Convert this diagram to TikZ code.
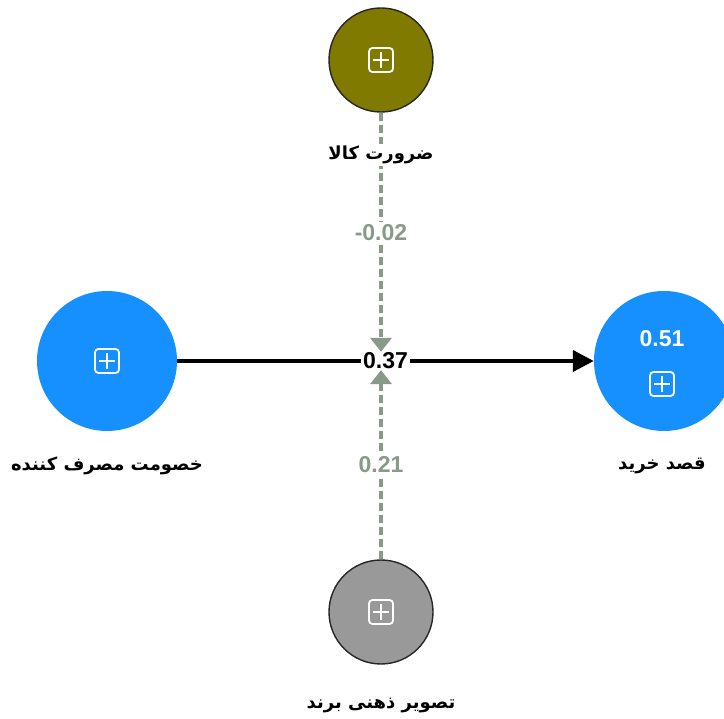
\documentclass[tikz,border=0pt]{standalone}
\usepackage{fontspec}
\setmainfont{Liberation Sans}
\newfontfamily\arabicfont[Script=Arabic]{DejaVu Sans}
\TeXXeTstate=1
\usetikzlibrary{arrows.meta}
\definecolor{olivenode}{RGB}{128,122,0}
\definecolor{bluenode}{RGB}{22,143,255}
\definecolor{graynode}{RGB}{153,153,153}
\definecolor{pathgreen}{RGB}{137,154,137}
\newcommand{\fatext}[1]{{\arabicfont\bfseries\fontsize{18}{21}\selectfont\beginR #1\endR}}

\begin{document}
\begin{tikzpicture}[x=1pt,y=-1pt,
  lv/.style={circle,minimum size=104pt,inner sep=0pt,draw=black!85,line width=1.4pt},
  bigv/.style={circle,minimum size=140pt,inner sep=0pt,fill=bluenode},
  plusbox/.style={draw=white,line width=1.8pt,rounded corners=3.5pt,minimum size=24pt,inner sep=0pt,
    path picture={\draw[white,line width=1.8pt] (path picture bounding box.center) +(-8pt,0) -- +(8pt,0)
      (path picture bounding box.center) +(0,-8pt) -- +(0,8pt);}},
  namelbl/.style={fill=white,inner sep=2pt},
  coef/.style={fill=white,inner sep=2pt,font=\fontsize{23}{26}\selectfont\bfseries},
  dashedge/.style={draw=pathgreen,line width=3.4pt,dash pattern=on 8pt off 4pt,-{Triangle[width=21pt,length=14pt]}}]
\useasboundingbox (0,0) rectangle (724,719);
% constructs
\node[lv,fill=olivenode] (zarurat) at (381,60) {};
\node[lv,fill=graynode] (tasvir) at (381,612) {};
\node[bigv] (khosumat) at (107,361) {};
\node[bigv] (ghasd) at (664,361) {};
\node[plusbox] (zarurat-icon) at (zarurat) {};
\node[plusbox] (tasvir-icon) at (tasvir) {};
\node[plusbox] (khosumat-icon) at (khosumat) {};
\node[plusbox] (ghasd-icon) at (662,384) {};
\node[coef,fill=none,text=white] (ghasd-r2) at (662,339) {0.51};
% paths
\draw[line width=4pt,-{Triangle[width=21pt,length=21pt]}] (khosumat) -- node[coef] (w37) {0.37} (ghasd);
\draw[dashedge] (zarurat) -- node[coef,text=pathgreen] (wzarurat) {-0.02} ([yshift=-3pt]zarurat |- w37.north);
\draw[dashedge] (tasvir) -- node[coef,text=pathgreen] (wtasvir) {0.21} ([yshift=3pt]tasvir |- w37.south);
% names
\node[namelbl] (zarurat-lbl) at (381,155) {\fatext{ضرورت کالا}};
\node[namelbl] (khosumat-lbl) at (107,466) {\fatext{خصومت مصرف کننده}};
\node[namelbl] (ghasd-lbl) at (662,466) {\fatext{قصد خرید}};
\node[namelbl] (tasvir-lbl) at (381,705) {\fatext{تصویر ذهنی برند}};
\end{tikzpicture}
\end{document}
